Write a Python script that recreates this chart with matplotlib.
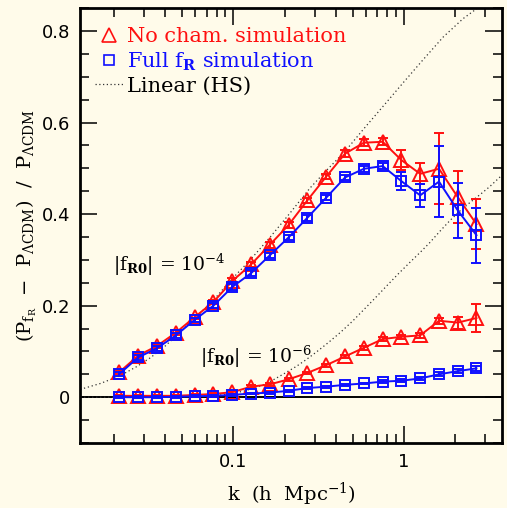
import numpy as np
import matplotlib.pyplot as plt
from matplotlib.lines import Line2D
from matplotlib.ticker import FixedLocator, MultipleLocator

# wavenumbers of the measured power spectrum bins (h/Mpc)
k = [0.0216, 0.0278, 0.0358, 0.0462, 0.0595, 0.0767, 0.0990, 0.1274, 0.164, 0.211,
     0.272, 0.351, 0.452, 0.583, 0.751, 0.967, 1.245, 1.605, 2.068, 2.66]

# |fR0| = 1e-4
nocham_4 = [0.055, 0.091, 0.112, 0.141, 0.175, 0.208, 0.254, 0.290, 0.333, 0.376,
            0.430, 0.482, 0.532, 0.556, 0.558, 0.518, 0.488, 0.499, 0.437, 0.378]
nocham_4_err = [0.004, 0.005, 0.005, 0.005, 0.005, 0.005, 0.006, 0.006, 0.006, 0.006,
                0.006, 0.006, 0.007, 0.007, 0.008, 0.022, 0.023, 0.078, 0.057, 0.054]
full_4 = [0.051, 0.087, 0.107, 0.135, 0.169, 0.200, 0.241, 0.271, 0.310, 0.349,
          0.392, 0.436, 0.480, 0.499, 0.505, 0.472, 0.441, 0.471, 0.408, 0.354]
full_4_err = [0.004, 0.005, 0.005, 0.005, 0.005, 0.005, 0.006, 0.006, 0.006, 0.006,
              0.006, 0.006, 0.006, 0.007, 0.007, 0.020, 0.025, 0.078, 0.061, 0.060]

# |fR0| = 1e-6
nocham_6 = [0.003, 0.003, 0.003, 0.003, 0.005, 0.007, 0.011, 0.023, 0.028, 0.039,
            0.053, 0.070, 0.089, 0.108, 0.127, 0.132, 0.135, 0.167, 0.163, 0.173]
nocham_6_err = [0.002, 0.002, 0.002, 0.002, 0.002, 0.002, 0.003, 0.003, 0.003, 0.003,
                0.003, 0.003, 0.003, 0.004, 0.004, 0.004, 0.005, 0.007, 0.013, 0.030]
full_6 = [0.000, 0.000, 0.000, 0.001, 0.002, 0.003, 0.005, 0.008, 0.010, 0.014,
          0.020, 0.023, 0.027, 0.030, 0.034, 0.036, 0.041, 0.050, 0.057, 0.063]
full_6_err = [0.002, 0.002, 0.002, 0.002, 0.002, 0.002, 0.002, 0.002, 0.002, 0.002,
              0.002, 0.002, 0.002, 0.002, 0.003, 0.003, 0.003, 0.004, 0.005, 0.006]

# linear theory (Hu-Sawicki) predictions
k_lin4 = [0.0127, 0.0167, 0.0218, 0.027, 0.0327, 0.039, 0.047, 0.0595, 0.0767, 0.096,
          0.126, 0.165, 0.215, 0.282, 0.351, 0.452, 0.578, 0.757, 0.99, 1.30,
          1.70, 2.22, 2.72, 3.0]
lin4 = [0.017, 0.030, 0.047, 0.066, 0.086, 0.108, 0.136, 0.172, 0.212, 0.254,
        0.300, 0.350, 0.402, 0.457, 0.495, 0.537, 0.585, 0.636, 0.687, 0.738,
        0.787, 0.827, 0.851, 0.865]
k_lin6 = [0.0127, 0.03, 0.05, 0.07, 0.085, 0.1, 0.115, 0.13, 0.15, 0.172,
          0.2, 0.236, 0.27, 0.308, 0.36, 0.423, 0.5, 0.578, 0.68, 0.792,
          0.93, 1.08, 1.25, 1.42, 1.62, 1.86, 2.13, 2.43, 2.8, 3.18, 3.75]
lin6 = [0.000, 0.000, 0.001, 0.003, 0.005, 0.009, 0.013, 0.019, 0.027, 0.038,
        0.052, 0.068, 0.083, 0.099, 0.119, 0.141, 0.166, 0.190, 0.217, 0.243,
        0.270, 0.294, 0.317, 0.338, 0.362, 0.386, 0.407, 0.425, 0.443, 0.460, 0.485]

red = "#ff1010"
blue = "#1010ff"
bg = "#fffbea"

plt.rcParams["font.family"] = "DejaVu Serif"
plt.rcParams["mathtext.fontset"] = "dejavuserif"


def main():
    fig = plt.figure(figsize=(5.07, 5.08), dpi=100, facecolor=bg)
    ax = fig.add_axes([0.158, 0.128, 0.832, 0.856])
    ax.set_facecolor(bg)

    ax.axhline(0, color="black", lw=1.4, zorder=1)
    ax.plot(k_lin4, lin4, ls=(0, (1, 2.2)), color="#333333", lw=0.9, zorder=2)
    ax.plot(k_lin6, lin6, ls=(0, (1, 2.2)), color="#333333", lw=0.9, zorder=2)

    for y, e in [(nocham_4, nocham_4_err), (nocham_6, nocham_6_err)]:
        ax.errorbar(k, y, yerr=e, color=red, lw=1.4, marker="^", ms=9.5,
                    mfc="none", mec=red, mew=1.4, capsize=3.5, capthick=1.4,
                    elinewidth=1.4, zorder=3)
    for y, e in [(full_4, full_4_err), (full_6, full_6_err)]:
        ax.errorbar(k, y, yerr=e, color=blue, lw=1.4, marker="s", ms=7.5,
                    mfc="none", mec=blue, mew=1.4, capsize=3.5, capthick=1.4,
                    elinewidth=1.4, zorder=4)

    ax.set_xscale("log")
    ax.set_xlim(0.0127, 3.75)
    ax.set_ylim(-0.1, 0.85)

    ax.xaxis.set_major_locator(FixedLocator([0.1, 1]))
    ax.set_xticklabels(["0.1", "1"], family="DejaVu Sans", fontsize=13)
    ax.yaxis.set_major_locator(MultipleLocator(0.2))
    ax.yaxis.set_minor_locator(MultipleLocator(0.05))
    ax.set_yticks([0, 0.2, 0.4, 0.6, 0.8])
    ax.set_yticklabels(["0", "0.2", "0.4", "0.6", "0.8"], family="DejaVu Sans", fontsize=13)
    ax.tick_params(which="both", direction="in", top=True, right=True, width=1.1)
    ax.tick_params(which="major", length=12, pad=7)
    ax.tick_params(which="minor", length=6.5)
    for s in ax.spines.values():
        s.set_linewidth(2)

    ax.set_xlabel(r"k  (h  Mpc$^{-1}$)", fontsize=14, labelpad=7)
    ax.set_ylabel(r"(P$_{\mathrm{f_R}}$  $-$  P$_{\Lambda\mathrm{CDM}}$)  /  P$_{\Lambda\mathrm{CDM}}$",
                  fontsize=14, labelpad=2)

    ax.text(0.0199, 0.29, r"$|\mathrm{f}_{\mathbf{R0}}|$ = 10$^{-4}$", fontsize=13.5,
            va="center")
    ax.text(0.064, 0.087, r"$|\mathrm{f}_{\mathbf{R0}}|$ = 10$^{-6}$", fontsize=13.5,
            va="center")

    handles = [
        Line2D([], [], ls="none", marker="^", ms=9.5, mfc="none", mec=red, mew=1.2),
        Line2D([], [], ls="none", marker="s", ms=7.5, mfc="none", mec=blue, mew=1.2),
        Line2D([], [], ls=(0, (1, 2)), color="#333333", lw=0.9),
    ]
    labels = ["No cham. simulation", r"Full $\mathrm{f}_{\mathbf{R}}$ simulation", "Linear (HS)"]
    ax.legend(handles, labels, loc="upper left", frameon=False, fontsize=15,
              labelcolor=[red, blue, "black"], handlelength=1.4, handletextpad=0.15,
              labelspacing=0.2, borderaxespad=0.3, bbox_to_anchor=(0.0, 0.99))

    fig.savefig("out.png", dpi=100, facecolor=bg)


if __name__ == "__main__":
    main()
